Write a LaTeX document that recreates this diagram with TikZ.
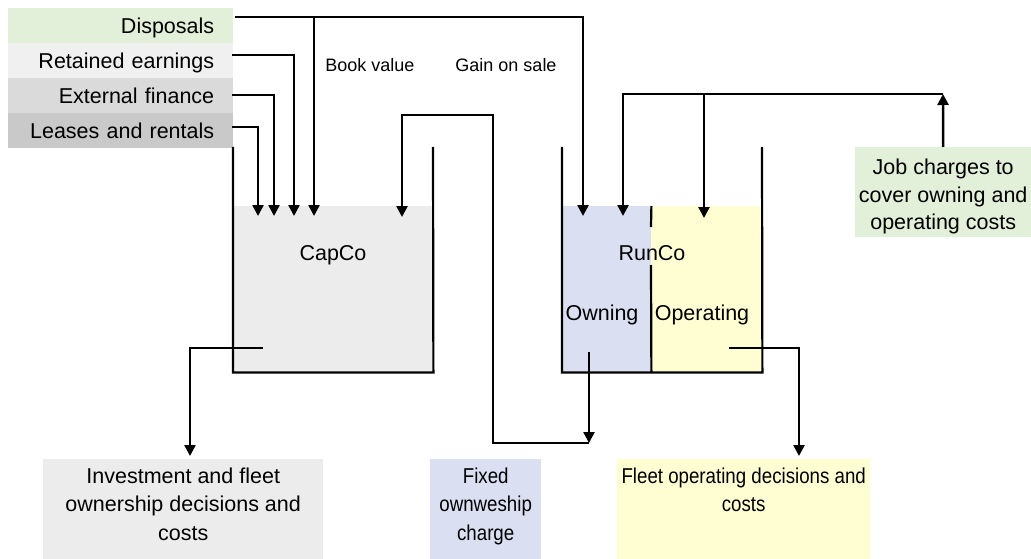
\documentclass[tikz,border=0pt]{standalone}
\usepackage{fontspec}
\setmainfont{Liberation Sans}
\newfontfamily\narrowfont[FakeStretch=0.87]{Liberation Sans}
\usetikzlibrary{arrows.meta}

\definecolor{srcGreen}{HTML}{E2EFD9}
\definecolor{srcLight}{HTML}{F0F0F0}
\definecolor{srcMid}{HTML}{DADADA}
\definecolor{srcDark}{HTML}{C9C9C9}
\definecolor{capGray}{HTML}{ECECEC}
\definecolor{ownBlue}{HTML}{DAE0F2}
\definecolor{opYellow}{HTML}{FFFED3}

\begin{document}
\begin{tikzpicture}[x=1pt,y=-1pt,
  flow/.style={line width=2.5pt,-{Triangle[length=11pt,width=11pt]}},
  wall/.style={line width=2.2pt},
  bigfont/.style={font=\fontsize{21.5}{27.5}\selectfont},
  srcbox/.style={bigfont,inner xsep=19pt,inner ysep=0pt,text width=187pt,
    align=right,minimum height=35pt,anchor=north west,
    text height=20pt,text depth=4.5pt},
  fillarea/.style={inner sep=0pt,anchor=north west},
  lbl/.style={bigfont,inner sep=0pt,anchor=base},
  smalllbl/.style={font=\fontsize{18}{22}\selectfont,inner sep=0pt,anchor=base},
  boxtext/.style={inner sep=0pt,anchor=north,yshift=-8.5pt,align=center}]

\useasboundingbox (0,0) rectangle (1031,559);

% funding sources
\node[srcbox,fill=srcGreen] (disp)  at (8,8)   {Disposals};
\node[srcbox,fill=srcLight] (ret)   at (8,43)  {Retained earnings};
\node[srcbox,fill=srcMid]   (ext)   at (8,78)  {External finance};
\node[srcbox,fill=srcDark]  (lease) at (8,113) {Leases and rentals};

% CapCo tank
\node[fillarea,fill=capGray,minimum width=200pt,minimum height=166pt] (capco) at (233,206) {};
\coordinate (capTL) at (233,147);
\coordinate (capTR) at (433,147);
\draw[wall] (capTL) -- (capco.south west) -- (capco.south east) -- (capTR);
\node[lbl] (capcoLbl) at (333,260) {CapCo};

% RunCo tank, split into owning and operating parts
\node[fillarea,fill=ownBlue,minimum width=89pt,minimum height=166pt] (own) at (562,206) {};
\node[fillarea,fill=opYellow,minimum width=111pt,minimum height=166pt] (oper) at (651,206) {};
\coordinate (runTL) at (562,147);
\coordinate (runTR) at (762,147);
\draw[wall] (runTL) -- (own.south west) -- (oper.south east) -- (runTR);
\coordinate (divA) at (651,227);
\coordinate (divB) at (651,265);
\draw[wall] (own.north east) -- (divA);
\draw[wall] (divB) -- (own.south east);
\node[lbl] (runcoLbl) at (652,260) {RunCo};
\node[lbl] (ownLbl) at (602,320) {Owning};
\node[lbl] (operLbl) at (702,320) {Operating};

% job charges
\node[fillarea,fill=srcGreen,minimum width=176pt,minimum height=90pt] (job) at (855,147) {};
\node[bigfont,align=center,inner sep=0pt,anchor=north,yshift=-12pt] (jobTxt) at (job.north)
  {Job charges to\\cover owning and\\operating costs};

% outcome boxes
\node[fillarea,fill=capGray,minimum width=280pt,minimum height=100pt] (inv) at (43,459) {};
\node[boxtext,font=\fontsize{21.5}{28.5}\selectfont] (invTxt) at (inv.north)
  {Investment and fleet\\ownership decisions and\\costs};
\node[fillarea,fill=ownBlue,minimum width=111pt,minimum height=100pt] (fixed) at (430,459) {};
\node[boxtext,font=\narrowfont\fontsize{21.5}{28.5}\selectfont] (fixedTxt) at (fixed.north)
  {Fixed\\ownweship\\charge};
\node[fillarea,fill=opYellow,minimum width=253pt,minimum height=100pt] (fleet) at (617,459) {};
\node[boxtext,font=\narrowfont\fontsize{21.5}{28.5}\selectfont] (fleetTxt) at (fleet.north)
  {Fleet operating decisions and\\costs};

% flow labels
\node[smalllbl] (book) at (370,71.5) {Book value};
\node[smalllbl] (gain) at (506,71.5) {Gain on sale};

% connector ports
\coordinate (dispOut)  at (235,17);
\coordinate (retOut)   at (232,55);
\coordinate (extOut)   at (232,95);
\coordinate (leaseOut) at (232,127);
\coordinate (cin1) at (258,216);
\coordinate (cin2) at (274,216);
\coordinate (cin3) at (294,216);
\coordinate (cin4) at (314,216);
\coordinate (cin5) at (402,217);
\coordinate (rin1) at (583,216);
\coordinate (rin2) at (623,216);
\coordinate (rin3) at (704,218);
\coordinate (ownOut)  at (589,352);
\coordinate (fixTip)  at (589,443);
\coordinate (loopTop) at (493,115);
\coordinate (capOut)  at (263,348);
\coordinate (invIn)   at (190,456);
\coordinate (operOut) at (729,348);
\coordinate (fleetIn) at (799,456);
\coordinate (jobTop)  at (943,94);

% sources into CapCo and RunCo
\draw[flow] (leaseOut) -| (cin1);
\draw[flow] (extOut) -| (cin2);
\draw[flow] (retOut) -| (cin3);
\draw[flow] (dispOut) -| (rin1);
\draw[flow] (dispOut -| cin4) -- (cin4);

% ownership charge loop from RunCo back to CapCo
\draw[flow] (ownOut) -- (fixTip);
\draw[flow] (fixTip) -| (loopTop) -| (cin5);

% decisions and costs
\draw[flow] (capOut) -| (invIn);
\draw[flow] (operOut) -| (fleetIn);

% job charges into RunCo
\draw[flow] (job.north) -- (jobTop);
\draw[flow] (jobTop) -| (rin2);
\draw[flow] (jobTop -| rin3) -- (rin3);

\end{tikzpicture}
\end{document}
